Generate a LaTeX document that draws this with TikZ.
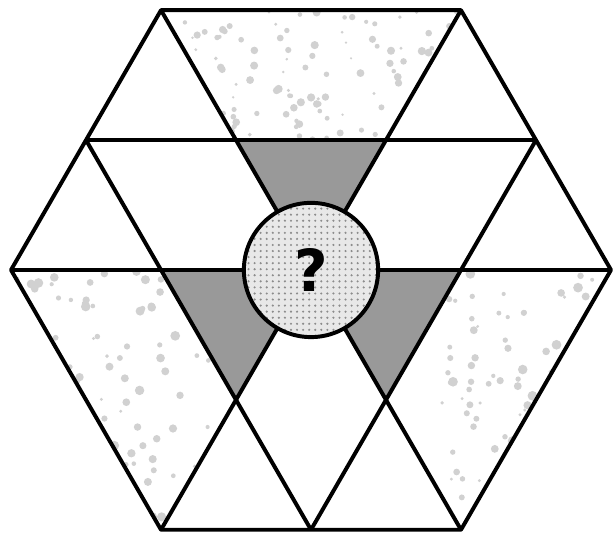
\documentclass[tikz,border=0pt]{standalone}
\usepackage{fontspec}
\setsansfont{DejaVu Sans}
\usetikzlibrary{patterns.meta}

\begin{document}
\begin{tikzpicture}[
  line join=round,
  grid/.style={line width=1.5pt},
  shade/.style={fill=black!40},
  speck/.style={fill=black!18},
  hub/.style={circle, draw, line width=1.5pt, minimum size=1.79cm,
              preaction={fill=black!9},
              pattern={Dots[distance=2.3pt, radius=0.45pt]},
              pattern color=black!45,
              font=\sffamily\bfseries\fontsize{22}{22}\selectfont},
]
\useasboundingbox (-4.147,-3.547) rectangle (4.027,3.6);
\def\hh{1.732}

% grid points
\coordinate (A1) at (-2,2*\hh);  \coordinate (A2) at (2,2*\hh);
\coordinate (B1) at (-3,\hh);    \coordinate (B2) at (-1,\hh);
\coordinate (B3) at (1,\hh);     \coordinate (B4) at (3,\hh);
\coordinate (C0) at (-4,0);      \coordinate (C1) at (-2,0);
\coordinate (O)  at (0,0);
\coordinate (C3) at (2,0);       \coordinate (C4) at (4,0);
\coordinate (D1) at (-1,-\hh);   \coordinate (D2) at (1,-\hh);
\coordinate (E1) at (-2,-2*\hh); \coordinate (E2) at (0,-2*\hh);
\coordinate (E3) at (2,-2*\hh);

% speckled pieces
\pgfmathsetseed{42}
\begin{scope}
  \clip (A1) -- (A2) -- (B3) -- (B2) -- cycle;
  \foreach \i in {1,...,130}{
    \pgfmathsetmacro\px{-2+4*rnd}
    \pgfmathsetmacro\py{\hh+\hh*rnd}
    \pgfmathsetmacro\pr{0.015+0.04*rnd}
    \fill[speck] (\px,\py) circle (\pr);
  }
\end{scope}
\begin{scope}
  \clip (C0) -- (C1) -- (D1) -- (E1) -- cycle;
  \foreach \i in {1,...,120}{
    \pgfmathsetmacro\px{-4+3*rnd}
    \pgfmathsetmacro\py{-2*\hh*rnd}
    \pgfmathsetmacro\pr{0.02+0.045*rnd}
    \fill[speck] (\px,\py) circle (\pr);
  }
\end{scope}
\begin{scope}
  \clip (C3) -- (C4) -- (E3) -- (D2) -- cycle;
  \foreach \i in {1,...,120}{
    \pgfmathsetmacro\px{1+3*rnd}
    \pgfmathsetmacro\py{-2*\hh*rnd}
    \pgfmathsetmacro\pr{0.02+0.045*rnd}
    \fill[speck] (\px,\py) circle (\pr);
  }
\end{scope}

% dark triangles
\fill[shade] (B2) -- (B3) -- (O) -- cycle;
\fill[shade] (C1) -- (O) -- (D1) -- cycle;
\fill[shade] (O) -- (C3) -- (D2) -- cycle;

% lines
\draw[grid] (A1) -- (A2) -- (C4) -- (E3) -- (E1) -- (C0) -- cycle;
\draw[grid] (B1) -- (B4);
\draw[grid] (C0) -- (C4);
\draw[grid] (A1) -- (E3);
\draw[grid] (A2) -- (E1);
\draw[grid] (B1) -- (E2);
\draw[grid] (B4) -- (E2);

% centre
\node[hub] (q) at (O) {?};
\end{tikzpicture}
\end{document}
